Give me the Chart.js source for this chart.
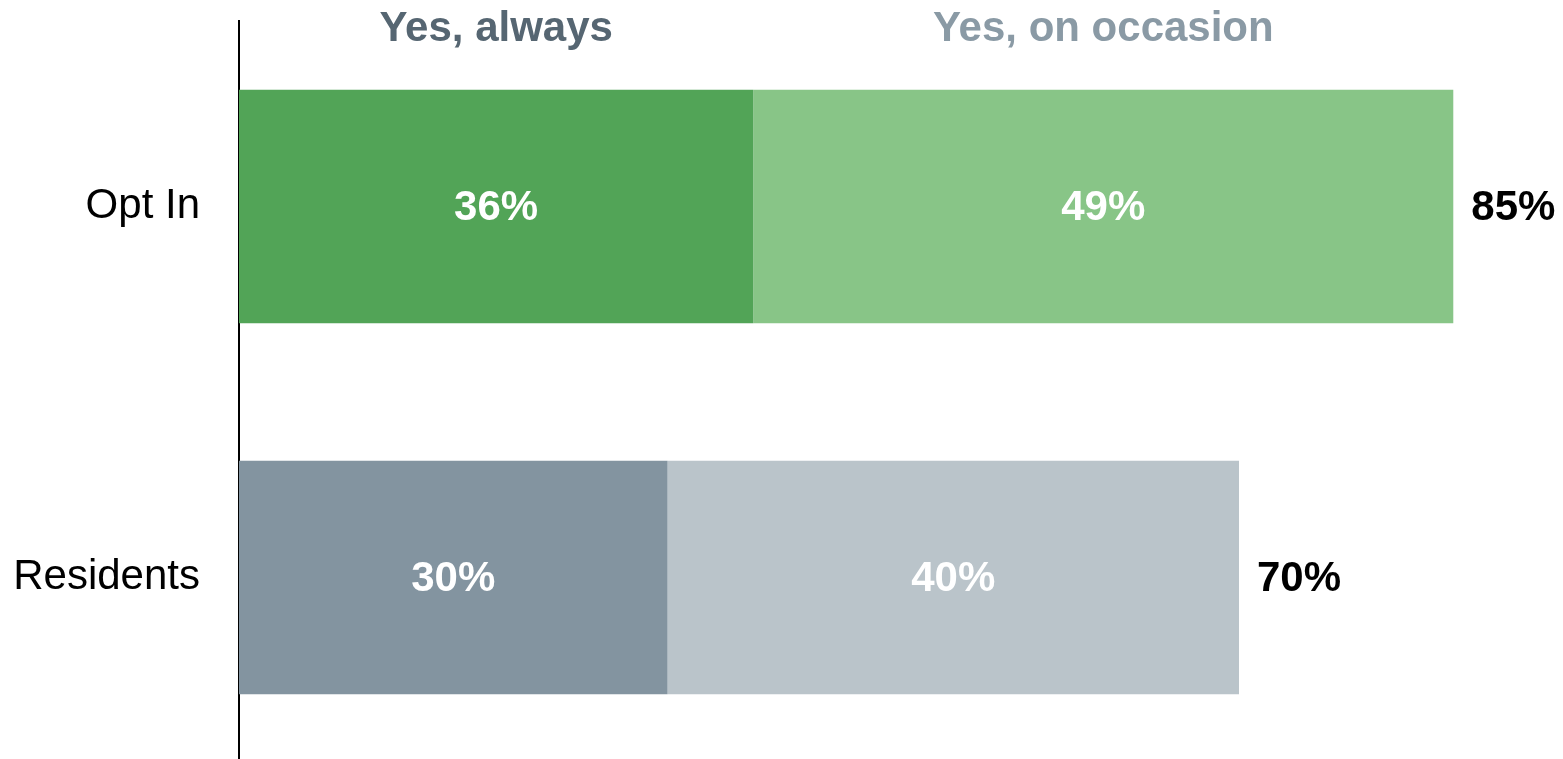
<!DOCTYPE html>
<html>
<head>
<meta charset="utf-8">
<script src="https://cdn.jsdelivr.net/npm/chart.js@4/dist/chart.umd.min.js"></script>
<style>
  html, body { margin: 0; padding: 0; background: #fff; overflow: hidden; }
  #wrap { position: relative; width: 1563px; height: 763px; }
</style>
</head>
<body>
<div id="wrap"><canvas id="c"></canvas></div>
<script>
// Survey groups and answer shares (%)
const groups = ['Opt In', 'Residents'];
const seriesNames = ['Yes, always', 'Yes, on occasion'];
const always = [36, 30];
const occasion = [49, 40];

const alwaysColors = ['#52a457', '#8394a0'];
const occasionColors = ['#88c587', '#bac4ca'];
const headerColors = ['#566672', '#8a9aa5'];

const FONT = '"Liberation Sans", Arial, sans-serif';

// Value labels inside segments, totals at bar ends, series headers above the top bar
const labelPlugin = {
  id: 'barLabels',
  afterDatasetsDraw(chart) {
    const ctx = chart.ctx;
    ctx.save();
    ctx.font = 'bold 42px ' + FONT;
    ctx.textBaseline = 'middle';
    chart.data.datasets.forEach((ds, di) => {
      const meta = chart.getDatasetMeta(di);
      meta.data.forEach((bar, i) => {
        const cx = (bar.base + bar.x) / 2;
        ctx.fillStyle = '#ffffff';
        ctx.textAlign = 'center';
        ctx.fillText(ds.data[i] + '%', cx, bar.y + 2);
        // series header above the first category's bar
        if (i === 0) {
          ctx.fillStyle = headerColors[di];
          ctx.fillText(ds.label, cx, bar.y - bar.height / 2 - 60);
        }
      });
    });
    // totals
    const last = chart.getDatasetMeta(chart.data.datasets.length - 1);
    last.data.forEach((bar, i) => {
      const total = always[i] + occasion[i];
      ctx.fillStyle = '#000000';
      ctx.textAlign = 'left';
      ctx.fillText(total + '%', bar.x + 18, bar.y + 2);
    });
    ctx.restore();
  }
};

new Chart(document.getElementById('c'), {
  type: 'bar',
  data: {
    labels: groups,
    datasets: [
      { label: seriesNames[0], data: always, backgroundColor: alwaysColors, borderWidth: 0 },
      { label: seriesNames[1], data: occasion, backgroundColor: occasionColors, borderWidth: 0 }
    ]
  },
  options: {
    indexAxis: 'y',
    responsive: true,
    maintainAspectRatio: false,
    animation: false,
    devicePixelRatio: 1,
    layout: { padding: { top: 21, bottom: 0, left: 0, right: 0 } },
    datasets: { bar: { barPercentage: 1, categoryPercentage: 0.63 } },
    plugins: {
      legend: { display: false },
      tooltip: { enabled: false }
    },
    scales: {
      x: {
        stacked: true,
        display: false,
        min: 0,
        max: 92.68
      },
      y: {
        stacked: true,
        afterFit(scale) {
          scale.width = 239;
          scale.paddingTop = 0;
          scale.paddingBottom = 0;
        },
        grid: { display: false, drawTicks: false },
        border: { display: true, color: '#000000', width: 2 },
        ticks: {
          color: '#000000',
          padding: 39,
          font: { family: FONT, size: 42 }
        }
      }
    }
  },
  plugins: [labelPlugin]
});
</script>
</body>
</html>
